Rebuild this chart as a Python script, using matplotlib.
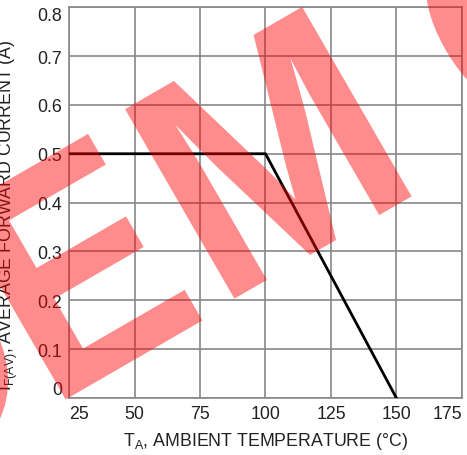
import matplotlib
matplotlib.use("Agg")
import matplotlib.pyplot as plt
from matplotlib.textpath import TextPath
from matplotlib.patches import PathPatch
from matplotlib.font_manager import FontProperties
from matplotlib.transforms import Affine2D

# derating curve
temp_c = [25, 100, 150]
current_a = [0.5, 0.5, 0.0]
x_ticks = [25, 50, 75, 100, 125, 150, 175]
y_ticks = [0, 0.1, 0.2, 0.3, 0.4, 0.5, 0.6, 0.7, 0.8]
y_tick_labels = ["0", "0.1", "0.2", "0.3", "0.4", "0.5", "0.6", "0.7", "0.8"]

plt.rcParams["font.family"] = ["Liberation Sans", "DejaVu Sans"]
plt.rcParams["mathtext.default"] = "regular"

W, H = 467, 456


def watermark(fig):
    # "DEMO" stamp, letter by letter: (char, baseline centre x, y in px from top-left, x squeeze)
    letters = [("D", -32, 457, 0.9), ("E", 134, 361, 0.885),
               ("M", 323, 248.5, 0.92), ("O", 587, 97, 0.9)]
    fp = FontProperties(family="Liberation Sans", weight="bold")
    for ch, cx, cy, sx in letters:
        tp = TextPath((0, 0), ch, size=318, prop=fp)
        ext = tp.get_extents()
        mid = (ext.x0 + ext.x1) / 2
        tr = (Affine2D().translate(-mid, 0).scale(sx, 1.0).rotate_deg(30)
              .translate(cx, H - cy).scale(1 / W, 1 / H))
        patch = PathPatch(tr.transform_path(tp), facecolor="red", edgecolor="none",
                          alpha=0.45, transform=fig.transFigure, zorder=10)
        fig.add_artist(patch)


def main():
    fig = plt.figure(figsize=(W / 100, H / 100), dpi=100)
    ax = fig.add_axes([0.148, 0.125, 0.841, 0.857])

    ax.plot(temp_c, current_a, color="black", linewidth=2.0, zorder=3)

    ax.set_xlim(25, 175)
    ax.set_ylim(0, 0.8)
    ax.set_xticks(x_ticks)
    ax.set_yticks(y_ticks)
    ax.set_yticklabels(y_tick_labels)
    ax.tick_params(length=0, labelsize=12.8, colors="#222222", pad=5)
    ax.grid(True, color="#888888", linewidth=1.2)
    for s in ax.spines.values():
        s.set_color("#888888")
        s.set_linewidth(1.2)

    # end labels pulled inside, like the datasheet
    xl = ax.get_xticklabels()
    xl[0].set_ha("left")
    xl[-1].set_ha("right")
    yl = ax.get_yticklabels()
    yl[0].set_va("bottom")
    yl[-1].set_va("top")

    ax.set_xlabel("T$_A$, AMBIENT TEMPERATURE (°C)", fontsize=12.8, color="#222222", labelpad=6)
    ax.set_ylabel("I$_{F(AV)}$, AVERAGE FORWARD CURRENT (A)", fontsize=12.8, color="#222222")
    ax.yaxis.set_label_coords(-0.125, 0.47)

    watermark(fig)

    fig.savefig("out.png", dpi=100)


if __name__ == "__main__":
    main()
